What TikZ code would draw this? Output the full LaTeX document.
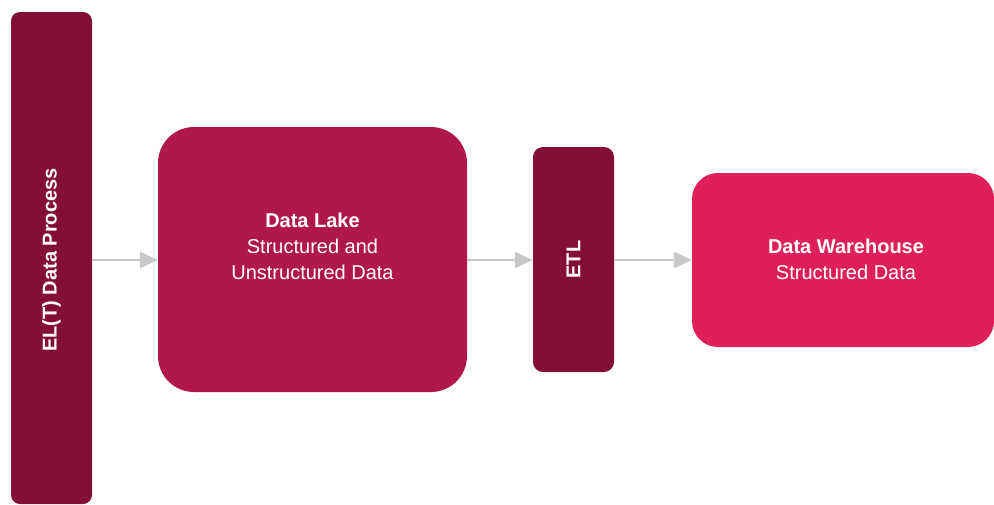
\documentclass[tikz,border=0pt]{standalone}
\usepackage{fontspec}
\setmainfont{Liberation Sans}
\usetikzlibrary{arrows.meta}
\definecolor{darkmaroon}{HTML}{831034}
\definecolor{lakered}{HTML}{B0184A}
\definecolor{whpink}{HTML}{DE1F5A}
\definecolor{arrowgray}{HTML}{C8C8C8}
\tikzset{
  box/.style={draw=none, text=white, align=center, inner sep=0pt, font=\fontsize{20}{26}\selectfont},
  flow/.style={draw=arrowgray, line width=2.8pt, -{Triangle[length=18pt,width=16pt]}}
}
\begin{document}
\begin{tikzpicture}[x=1pt,y=-1pt]
\useasboundingbox (0,0) rectangle (994,504);
\fill[white] (0,0) rectangle (994,504);
% EL(T) box
\node[box, fill=darkmaroon, rounded corners=9pt, minimum width=81pt, minimum height=492pt] (elt) at (51.5,258) {};
\node[box, rotate=90] (eltlabel) at (51.5,260) {\textbf{EL(T) Data Process}};
% Data Lake
\node[box, fill=lakered, rounded corners=36pt, minimum width=309pt, minimum height=265pt] (lake) at (312.5,259.5) {};
\node[box] (lakelabel) at (312.5,246) {\textbf{Data Lake}\\Structured and\\Unstructured Data};
% ETL
\node[box, fill=darkmaroon, rounded corners=10pt, minimum width=81pt, minimum height=225pt] (etl) at (573.5,259.5) {};
\node[box, rotate=90] (etllabel) at (etl.center) {\textbf{ETL}};
% Data Warehouse
\node[box, fill=whpink, rounded corners=26pt, minimum width=302pt, minimum height=174pt] (wh) at (843,260) {};
\node[box] (whlabel) at (846,259) {\textbf{Data Warehouse}\\Structured Data};
% arrows
\draw[flow] (elt.east |- 0,260) -- (lake.west |- 0,260);
\draw[flow] (lake.east |- 0,260) -- (etl.west |- 0,260);
\draw[flow] (etl.east |- 0,260) -- (wh.west |- 0,260);
\end{tikzpicture}
\end{document}
